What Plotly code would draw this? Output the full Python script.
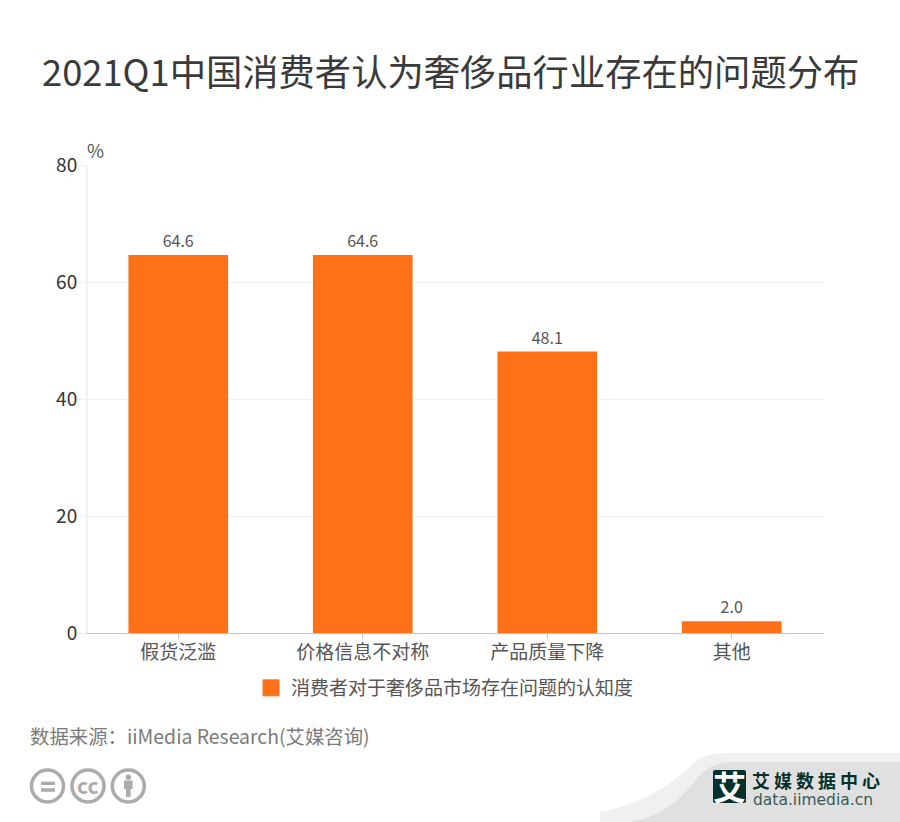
import plotly.graph_objects as go

title = "2021Q1中国消费者认为奢侈品行业存在的问题分布"
categories = ["假货泛滥", "价格信息不对称", "产品质量下降", "其他"]
values = [64.6, 64.6, 48.1, 2.0]
series_name = "消费者对于奢侈品市场存在问题的认知度"
source = "数据来源：iiMedia Research(艾媒咨询)"
brand = "艾媒数据中心"
y_ticks = [0, 20, 40, 60, 80]

W, H = 900, 822
L, R, T, B = 86, 824, 165, 633
FONT = "Noto Sans CJK SC"
ORANGE = "#FF7119"


def px(x):
    return (x - L) / (R - L)


def py(y):
    return (B - y) / (B - T)


def path(cmds):
    out = []
    for c in cmds:
        letter, pts = c[0], c[1:]
        out.append(letter + " " + " ".join(f"{px(a):.5f},{py(b):.5f}" for a, b in pts))
    return " ".join(out) + " Z"


def shape_path(cmds, color, layer="below"):
    return dict(type="path", xref="paper", yref="paper", path=path(cmds),
                fillcolor=color, line=dict(width=0), layer=layer)


def circle(cx, cy, r, fill=None, line=None, lw=0):
    return dict(type="circle", xref="paper", yref="paper",
                x0=px(cx - r), x1=px(cx + r), y0=py(cy + r), y1=py(cy - r),
                fillcolor=fill if fill else "rgba(0,0,0,0)",
                line=dict(color=line if line else "rgba(0,0,0,0)", width=lw))


def rect(x0, y0, x1, y1, color, layer="above"):
    return dict(type="rect", xref="paper", yref="paper",
                x0=px(x0), x1=px(x1), y0=py(y1), y1=py(y0),
                fillcolor=color, line=dict(width=0), layer=layer)


def text(x, y, s, size, color, anchor="center", weight=None, family=FONT):
    return dict(x=px(x), y=py(y), xref="paper", yref="paper", text=s, showarrow=False,
                xanchor=anchor, yanchor="middle",
                font=dict(size=size, color=color, family=family, weight=weight))


GREY = "#ABABAB"
DARK = "#04312B"
shapes = [
    shape_path([("M", (600, 812)), ("C", (640, 804), (665, 790), (695, 762)), ("C", (703, 755), (715, 753), (730, 753)),
                ("L", (900, 753)), ("L", (900, 822)), ("L", (600, 822))], "#F0F0F0"),
    shape_path([("M", (630, 822)), ("C", (665, 815), (680, 800), (700, 775)), ("C", (708, 766), (720, 762), (735, 762)),
                ("L", (900, 762)), ("L", (900, 822))], "#E0E0E0"),
    rect(86, 165, 87.5, 633, "#EEEEEE", "below"),
    circle(47.5, 786, 16, None, GREY, 3.5),
    rect(41, 781.7, 55, 785, GREY),
    rect(41, 788.3, 55, 791.7, GREY),
    circle(88, 786, 16, None, GREY, 3.5),
    circle(128.3, 786, 16, None, GREY, 3.5),
    circle(128.3, 777.3, 2.7, GREY),
    rect(124, 780.5, 132.6, 789, GREY),
    rect(126, 789, 130.6, 797, GREY),
    shape_path([("M", (715, 770)), ("L", (744, 770)), ("C", (745, 770), (746, 771), (746, 772)), ("L", (746, 801)),
                ("C", (746, 802), (745, 803), (744, 803)), ("L", (715, 803)), ("C", (714, 803), (713, 802), (713, 801)),
                ("L", (713, 772)), ("C", (713, 771), (714, 770), (715, 770))], DARK, "above"),
]

annotations = [
    text(450, 70, title, 36.3, "#3A3A3A"),
    text(85, 150, "%", 18.5, "#555555", "left"),
    text(28, 735, source, 19.4, "#7A7A7A", "left"),
    text(88, 785, "<b>cc</b>", 21, GREY),
    text(729.5, 786, "<b>艾</b>", 33, "#FFFFFF"),
    text(751, 799.5, "data.iimedia.cn", 15.5, "#3C5A55", "left", family="DejaVu Sans"),
]
for i, ch in enumerate(brand):
    annotations.append(text(761 + i * 22, 779.5, f"<b>{ch}</b>", 18, DARK))

fig = go.Figure()
fig.add_trace(go.Bar(
    x=categories, y=values, name=series_name, width=0.54,
    marker=dict(color=ORANGE, line=dict(width=0)),
    text=[f"{v:.1f}" for v in values], textposition="outside", cliponaxis=False,
    textfont=dict(size=16, color="#555555", family=FONT),
    showlegend=False, hoverinfo="x+y",
))
fig.add_trace(go.Scatter(
    x=[categories[0]], y=[None], mode="markers", name=series_name,
    marker=dict(symbol="square", size=16, color=ORANGE, line=dict(color=ORANGE, width=1)),
    showlegend=True,
))
fig.update_layout(
    width=W, height=H, autosize=False,
    margin=dict(l=L, r=W - R, t=T, b=H - B, pad=0),
    paper_bgcolor="white", plot_bgcolor="white",
    font=dict(family=FONT, color="#555555"),
    shapes=shapes, annotations=annotations,
    legend=dict(orientation="h", x=px(445), xanchor="center", y=py(688), yanchor="middle",
                font=dict(size=19, color="#555555", family=FONT), itemsizing="trace"),
    bargap=0.46,
)
fig.update_xaxes(type="category", showgrid=False, showline=True, linecolor="#C4C4C4", linewidth=1,
                 ticks="outside", ticklen=5, tickcolor="#C4C4C4", tickwidth=1, ticklabelstandoff=-3,
                 tickfont=dict(size=19, color="#555555", family=FONT), fixedrange=True)
fig.update_yaxes(range=[0, 80], tickvals=y_ticks, showgrid=True, gridcolor="#F0F0F0", gridwidth=1,
                 showline=False, ticks="outside", ticklen=6,
                 tickcolor="#EEEEEE", ticklabelstandoff=-2,
                 tickfont=dict(size=19, color="#333333", family=FONT),
                 zeroline=False, fixedrange=True)
fig.write_html("out.html", post_script="document.body.style.margin='0';document.body.style.overflow='hidden';",
               config={"displayModeBar": False})
